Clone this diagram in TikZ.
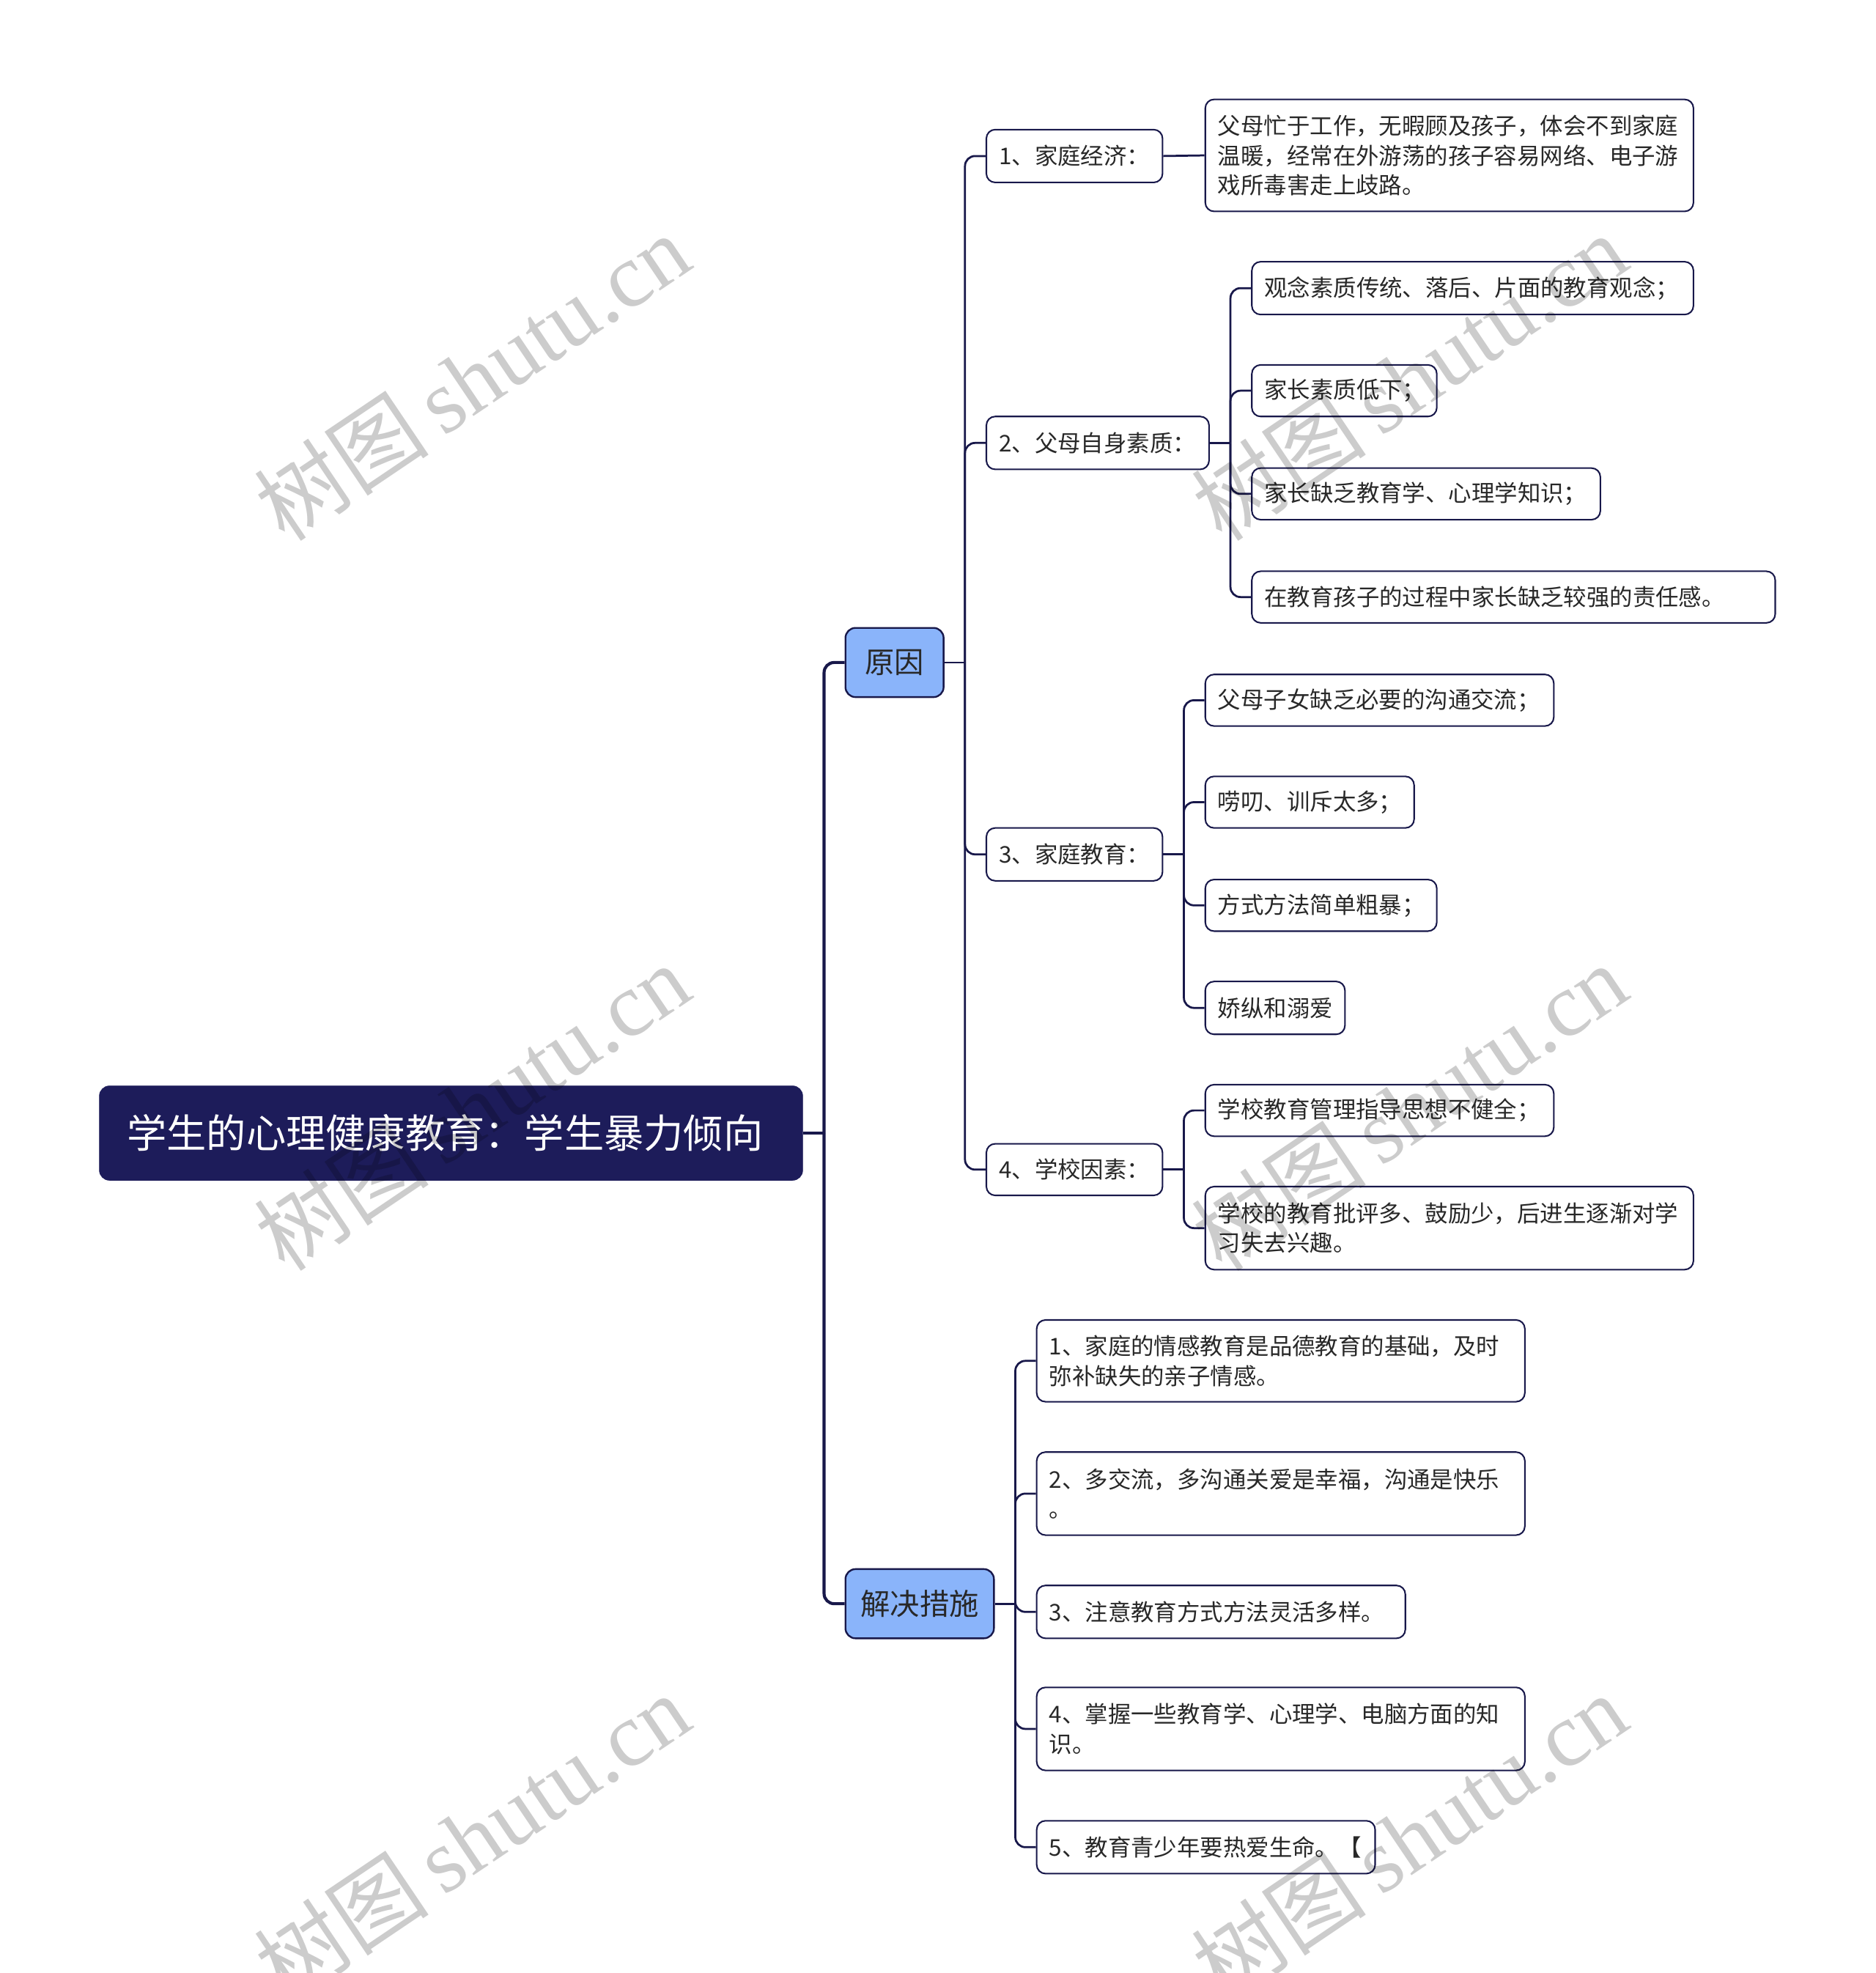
\documentclass[tikz,border=0pt]{standalone}
\usepackage{fontspec}
\newfontfamily\cjk{Noto Sans CJK SC}
\newfontfamily\wmserif{Liberation Serif}
\definecolor{navy}{RGB}{29,28,90}
\definecolor{linec}{RGB}{24,24,74}
\definecolor{lblue}{RGB}{138,180,250}
\definecolor{txt}{RGB}{40,40,40}
\begin{document}
\begin{tikzpicture}[x=1pt,y=-1pt,
  leaf/.style={draw=linec, line width=1.2pt, rounded corners=7pt, fill=white,
    inner xsep=10pt, inner ysep=0pt, align=left, text=txt,
    font=\cjk\fontsize{18.3}{23.5}\selectfont},
  lvlone/.style={draw=linec, line width=1.4pt, fill=lblue, rounded corners=8pt,
    inner sep=0pt, text=txt, font=\cjk\fontsize{23.5}{28}\selectfont},
  rootn/.style={fill=navy, draw=navy, rounded corners=8pt, inner xsep=22pt, inner ysep=0pt,
    align=left, text=white, font=\cjk\fontsize{31.6}{36}\selectfont},
  conn/.style={draw=linec, line width=1.6pt, rounded corners=8pt},
  connz/.style={draw=linec, line width=2.4pt, rounded corners=8pt},
  wm/.style={rotate=34, text=black, opacity=0.2, inner sep=0pt}
]
\useasboundingbox[fill=white] (0,0) rectangle (1491,1568);

% root and level one
\node[rootn, text width=515pt, minimum height=75pt] (root) at (358.5,900.5) {学生的心理健康教育：学生暴力倾向};
\node[lvlone, minimum width=78pt, minimum height=55pt] (yy) at (711,526.5) {原因};
\node[lvlone, minimum width=118pt, minimum height=55pt] (jj) at (731,1274.5) {解决措施};

% level two under 原因
\node[leaf, text width=120pt, minimum height=42pt] (a1) at (854,124) {1、家庭经济：};
\node[leaf, text width=157pt, minimum height=42pt] (a2) at (872.5,352) {2、父母自身素质：};
\node[leaf, text width=120pt, minimum height=42pt] (a3) at (854,679) {3、家庭教育：};
\node[leaf, text width=120pt, minimum height=41pt] (a4) at (854,929.5) {4、学校因素：};

% leaves
\node[leaf, text width=368pt, minimum height=89pt] (l11) at (1152,123.5) {父母忙于工作，无暇顾及孩子，体会不到家庭\\温暖，经常在外游荡的孩子容易网络、电子游\\戏所毒害走上歧路。};
\node[leaf, text width=331pt, minimum height=42pt] (l21) at (1170.5,229) {观念素质传统、落后、片面的教育观念；};
\node[leaf, text width=127pt, minimum height=41pt] (l22) at (1068.5,310.5) {家长素质低下；};
\node[leaf, text width=257pt, minimum height=41pt] (l23) at (1133.5,392.5) {家长缺乏教育学、心理学知识；};
\node[leaf, text width=396pt, minimum height=41pt] (l24) at (1203,474.5) {在教育孩子的过程中家长缺乏较强的责任感。};
\node[leaf, text width=257pt, minimum height=41pt] (l31) at (1096.5,556.5) {父母子女缺乏必要的沟通交流；};
\node[leaf, text width=146pt, minimum height=41pt] (l32) at (1041,637.5) {唠叨、训斥太多；};
\node[leaf, text width=164pt, minimum height=41pt] (l33) at (1050,719.5) {方式方法简单粗暴；};
\node[leaf, text width=91pt, minimum height=42pt] (l34) at (1013.5,801) {娇纵和溺爱};
\node[leaf, text width=257pt, minimum height=41pt] (l41) at (1096.5,882.5) {学校教育管理指导思想不健全；};
\node[leaf, text width=368pt, minimum height=66pt] (l42) at (1152,976) {学校的教育批评多、鼓励少，后进生逐渐对学\\习失去兴趣。};

% 解决措施 children
\node[leaf, text width=368pt, minimum height=65pt] (b1) at (1018,1081.5) {1、家庭的情感教育是品德教育的基础，及时\\弥补缺失的亲子情感。};
\node[leaf, text width=368pt, minimum height=66pt] (b2) at (1018,1187) {2、多交流，多沟通关爱是幸福，沟通是快乐\\。};
\node[leaf, text width=273pt, minimum height=42pt] (b3) at (970.5,1281) {3、注意教育方式方法灵活多样。};
\node[leaf, text width=368pt, minimum height=66pt] (b4) at (1018,1374) {4、掌握一些教育学、心理学、电脑方面的知\\识。};
\node[leaf, text width=249pt, minimum height=42pt] (b5) at (958.5,1468) {5、教育青少年要热爱生命。【};

% connectors
\coordinate (t0) at (655,900.5);
\draw[connz] (root.east) -- (t0);
\draw[connz] (t0) |- (yy.west);
\draw[connz] (t0) |- (jj.west);

\coordinate (t1) at (767,526.5);
\draw[conn] (yy.east) -- (t1);
\foreach \c in {a1,a2,a3,a4} \draw[conn] (t1) |- (\c.west);

\draw[conn] (a1.east) -- (l11.west);

\coordinate (t2) at (978,352);
\draw[conn] (a2.east) -- (t2);
\foreach \c in {l21,l22,l23,l24} \draw[conn] (t2) |- (\c.west);

\coordinate (t3) at (941,679);
\draw[conn] (a3.east) -- (t3);
\foreach \c in {l31,l32,l33,l34} \draw[conn] (t3) |- (\c.west);

\coordinate (t4) at (941,929.5);
\draw[conn] (a4.east) -- (t4);
\foreach \c in {l41,l42} \draw[conn] (t4) |- (\c.west);

\coordinate (t5) at (807,1274.5);
\draw[conn] (jj.east) -- (t5);
\foreach \c in {b1,b2,b3,b4,b5} \draw[conn] (t5) |- (\c.west);

% watermarks
\foreach \wx/\wy [count=\i] in {375/300,1120/300,375/880,1120/880,375/1460,1120/1460}
  \node[wm] (wm\i) at (\wx,\wy) {\cjk\fontsize{70}{70}\selectfont 树图\,\wmserif\fontsize{72}{72}\selectfont shutu.cn};
\end{tikzpicture}
\end{document}
